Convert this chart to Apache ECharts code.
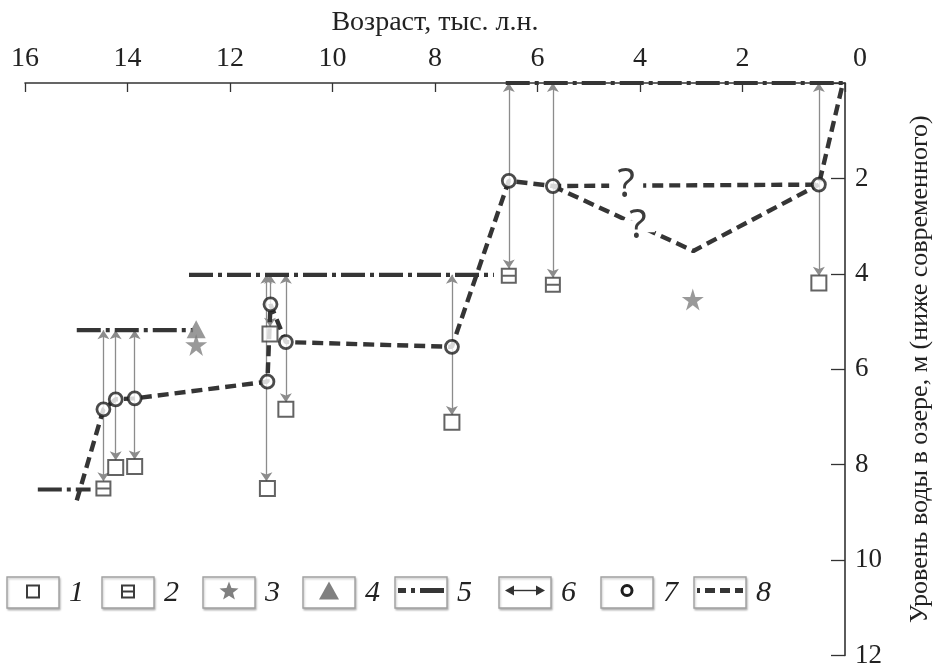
<!DOCTYPE html>
<html>
<head>
<meta charset="utf-8">
<script src="https://cdn.jsdelivr.net/npm/echarts@6/dist/echarts.min.js"></script>
<style>
  html, body { margin: 0; padding: 0; background: #fff; }
  #chart { width: 941px; height: 669px; }
</style>
</head>
<body>
<div id="chart"></div>
<script>
// Age axis (thousand years BP) and depth axis (m below present level)
const ageTicks = [0, 2, 4, 6, 8, 10, 12, 14, 16];
const depthTicks = [0, 2, 4, 6, 8, 10, 12];

// 1 – dated samples (plain square): [age, depth]
const samples1 = [[14.23, 8.06], [13.86, 8.04], [11.27, 8.50], [11.22, 5.26], [10.91, 6.84], [7.67, 7.11], [0.51, 4.19]];
// 2 – dated samples (square with bar)
const samples2 = [[14.47, 8.50], [6.56, 4.04], [5.70, 4.23]];
// 3 – stars
const stars3 = [[12.66, 5.49], [2.97, 4.54]];
// 4 – triangle
const triangles4 = [[12.66, 5.16]];
// 5 – lake level stands: [ageFrom, ageTo, depth]
const levels5 = [[15.75, 14.72, 8.52], [14.99, 12.72, 5.18], [12.80, 6.85, 4.02], [6.62, 0.00, 0.00]];
// 6 – uncertainty ranges: [age, depthTop, depthBottom]
const ranges6 = [
  [14.47, 5.18, 8.35], [14.23, 5.18, 7.91], [13.86, 5.18, 7.89],
  [11.29, 4.02, 8.35], [11.22, 4.02, 5.11], [10.91, 4.02, 6.69],
  [7.67, 4.02, 6.96], [6.56, 0.00, 3.89], [5.70, 0.00, 4.08], [0.51, 0.00, 4.04]
];
// 7 – reconstructed level points
const points7 = [[14.47, 6.84], [14.23, 6.63], [13.86, 6.61], [11.27, 6.26], [11.21, 4.64], [10.91, 5.43], [7.67, 5.53], [6.56, 2.05], [5.70, 2.16], [0.51, 2.13]];
// 8 – lake level curve and its alternative branch
const curve8 = [[14.99, 8.75], [14.47, 6.84], [14.23, 6.63], [13.86, 6.61], [11.27, 6.26], [11.21, 4.64], [10.91, 5.43], [7.67, 5.53], [6.56, 2.05], [5.70, 2.16], [0.51, 2.13], [0.04, 0.00]];
const branch8 = [[5.70, 2.16], [2.96, 3.52], [0.51, 2.13]];
const queries = [[4.27, 2.15], [4.04, 3.00]];

const legendLabels = ['1', '2', '3', '4', '5', '6', '7', '8'];

const SERIF = '"Liberation Serif", "DejaVu Serif", serif';
const DARK = '#353535';
const GREY = '#808080';
const STAR = 'path://M50,2 L61,36 L97,36 L68,57 L79,92 L50,70 L21,92 L32,57 L3,36 L39,36 Z';
const BOXBAR = 'path://M0,0 L12,0 L12,12 L0,12 Z M0,6 L12,6';

function starPoints(cx, cy, r) {
  const pts = [];
  for (let k = 0; k < 10; k++) {
    const rad = k % 2 === 0 ? r : r * 0.42;
    const a = -Math.PI / 2 + k * Math.PI / 5;
    pts.push([cx + rad * Math.cos(a), cy + rad * Math.sin(a)]);
  }
  return pts;
}

const chart = echarts.init(document.getElementById('chart'), null, { renderer: 'canvas' });

const series = [];

// 5 – level stands
levels5.forEach(function (l) {
  series.push({
    type: 'line', name: '5', symbol: 'none', clip: false, z: 3,
    data: [[l[0], l[2]], [l[1], l[2]]],
    lineStyle: { color: DARK, width: 4.2, type: [24, 5, 4, 5] }
  });
});

// 6 – range arrows
series.push({
  type: 'lines', coordinateSystem: 'cartesian2d', z: 2,
  symbol: ['arrow', 'arrow'], symbolSize: 9,
  lineStyle: { color: '#8c8c8c', width: 1.3, opacity: 1 },
  data: ranges6.map(function (r) { return { coords: [[r[0], r[1]], [r[0], r[2]]] }; })
});

// 8 – level curve
series.push({
  type: 'line', name: '8', symbol: 'none', clip: false, z: 4,
  data: curve8,
  lineStyle: { color: DARK, width: 4.4, type: [11, 6] }
});
series.push({
  type: 'line', symbol: 'none', z: 4,
  data: branch8,
  lineStyle: { color: DARK, width: 4.4, type: [11, 6] }
});

// question marks on the uncertain part of the curve
series.push({
  type: 'scatter', symbol: 'rect', symbolSize: [34, 12], z: 6,
  data: queries,
  itemStyle: { color: '#fff', opacity: 1 },
  emphasis: { disabled: true },
  label: {
    show: true, position: 'inside', formatter: '?',
    fontFamily: '"Noto Sans", "DejaVu Sans", sans-serif', fontSize: 40, color: '#3c3c3c',
    textBorderWidth: 0, opacity: 1
  }
});

// 1 – squares
series.push({
  type: 'scatter', name: '1', symbol: 'rect', symbolSize: 15, z: 5,
  data: samples1,
  itemStyle: { color: '#fff', borderColor: '#3c3c3c', borderWidth: 2 }
});
// 2 – squares with bar
series.push({
  type: 'scatter', name: '2', symbol: BOXBAR, symbolSize: 14, z: 5,
  data: samples2,
  itemStyle: { color: '#fff', borderColor: '#3c3c3c', borderWidth: 2 }
});
// 3 – stars
series.push({
  type: 'scatter', name: '3', symbol: STAR, symbolSize: 22, z: 5,
  data: stars3,
  itemStyle: { color: GREY }
});
// 4 – triangle
series.push({
  type: 'scatter', name: '4', symbol: 'triangle', symbolSize: [19, 18], z: 5,
  data: triangles4,
  itemStyle: { color: GREY }
});
// 7 – circles
series.push({
  type: 'scatter', name: '7', symbol: 'circle', symbolSize: 13, z: 7,
  data: points7,
  itemStyle: { color: '#fff', borderColor: '#1e1e1e', borderWidth: 2.8 }
});

// Legend row drawn as boxed samples
const legendGraphics = [];
const boxLeft = [7, 102, 203, 303, 395, 499, 601, 694];
const boxY = 577, boxW = 52, boxH = 31;
legendLabels.forEach(function (lab, i) {
  const bx = boxLeft[i];
  const cx = bx + boxW / 2, cy = boxY + boxH / 2;
  const items = [{
    type: 'rect', shape: { x: bx, y: boxY, width: boxW, height: boxH },
    style: { fill: '#fff', stroke: '#a0a0a0', lineWidth: 1.4, shadowColor: 'rgba(0,0,0,0.22)', shadowBlur: 2, shadowOffsetX: 1, shadowOffsetY: 1.5 }
  }];
  if (lab === '1') {
    items.push({ type: 'rect', shape: { x: cx - 6, y: cy - 7, width: 12, height: 12 }, style: { fill: '#fff', stroke: '#3c3c3c', lineWidth: 2 } });
  } else if (lab === '2') {
    items.push({ type: 'rect', shape: { x: cx - 6, y: cy - 7, width: 12, height: 12 }, style: { fill: '#fff', stroke: '#3c3c3c', lineWidth: 2 } });
    items.push({ type: 'line', shape: { x1: cx - 6, y1: cy - 1, x2: cx + 6, y2: cy - 1 }, style: { stroke: '#3c3c3c', lineWidth: 2 } });
  } else if (lab === '3') {
    items.push({ type: 'polygon', shape: { points: starPoints(cx, cy - 1, 10) }, style: { fill: GREY } });
  } else if (lab === '4') {
    items.push({ type: 'polygon', shape: { points: [[cx, cy - 11], [cx + 10, cy + 7], [cx - 10, cy + 7]] }, style: { fill: GREY } });
  } else if (lab === '5') {
    items.push({ type: 'line', shape: { x1: bx + 3, y1: cy - 2, x2: bx + boxW - 3, y2: cy - 2 }, style: { stroke: DARK, lineWidth: 5, lineDash: [8, 5, 4, 5, 40] } });
  } else if (lab === '6') {
    items.push({ type: 'line', shape: { x1: bx + 10, y1: cy - 2, x2: bx + boxW - 10, y2: cy - 2 }, style: { stroke: '#333', lineWidth: 1.4 } });
    items.push({ type: 'polygon', shape: { points: [[bx + 6, cy - 2], [bx + 15, cy - 7], [bx + 15, cy + 3]] }, style: { fill: '#333' } });
    items.push({ type: 'polygon', shape: { points: [[bx + boxW - 6, cy - 2], [bx + boxW - 15, cy - 7], [bx + boxW - 15, cy + 3]] }, style: { fill: '#333' } });
  } else if (lab === '7') {
    items.push({ type: 'circle', shape: { cx: cx, cy: cy - 2, r: 5 }, style: { fill: '#fff', stroke: '#1e1e1e', lineWidth: 3 } });
  } else if (lab === '8') {
    items.push({ type: 'line', shape: { x1: bx + 3, y1: cy - 2, x2: bx + boxW - 3, y2: cy - 2 }, style: { stroke: DARK, lineWidth: 5, lineDash: [3, 5, 10, 5, 10, 5, 10] } });
  }
  items.push({
    type: 'text', x: bx + boxW + 10, y: cy + 1,
    style: { text: lab, fontFamily: SERIF, fontStyle: 'italic', fontSize: 30, fill: '#222', verticalAlign: 'middle', align: 'left' }
  });
  legendGraphics.push({ type: 'group', children: items });
});

chart.setOption({
  animation: false,
  backgroundColor: '#fff',
  grid: { left: 25, right: 76, top: 83, bottom: 7, containLabel: false },
  xAxis: {
    type: 'value', position: 'top', inverse: true,
    min: ageTicks[0], max: ageTicks[ageTicks.length - 1], interval: 2,
    name: 'Возраст, тыс. л.н.', nameLocation: 'middle', nameGap: 46,
    nameTextStyle: { fontFamily: SERIF, fontSize: 28, color: '#222' },
    axisLine: { show: true, lineStyle: { color: '#333', width: 1.6 } },
    axisTick: { show: true, inside: true, length: 9, lineStyle: { color: '#333', width: 1.3 } },
    axisLabel: {
      margin: 10, fontFamily: SERIF, fontSize: 28, color: '#222',
      formatter: function (v) { return v === 0 ? '{z|0}' : String(v); },
      rich: { z: { fontFamily: SERIF, fontSize: 28, color: '#222', padding: [0, 0, 0, 30] } }
    },
    splitLine: { show: false }
  },
  yAxis: {
    type: 'value', position: 'right', inverse: true,
    min: depthTicks[0], max: depthTicks[depthTicks.length - 1], interval: 2,
    name: 'Уровень воды в озере, м (ниже современного)', nameLocation: 'middle', nameGap: 62, nameRotate: 90,
    nameTextStyle: { fontFamily: SERIF, fontSize: 26, color: '#222' },
    axisLine: { show: true, lineStyle: { color: '#333', width: 1.6 } },
    axisTick: { show: true, inside: true, length: 14, lineStyle: { color: '#333', width: 1.3 } },
    axisLabel: {
      margin: 10, fontFamily: SERIF, fontSize: 27, color: '#222',
      formatter: function (v) { return v === 0 ? '' : String(v); }
    },
    splitLine: { show: false }
  },
  series: series,
  graphic: legendGraphics
});
</script>
</body>
</html>
